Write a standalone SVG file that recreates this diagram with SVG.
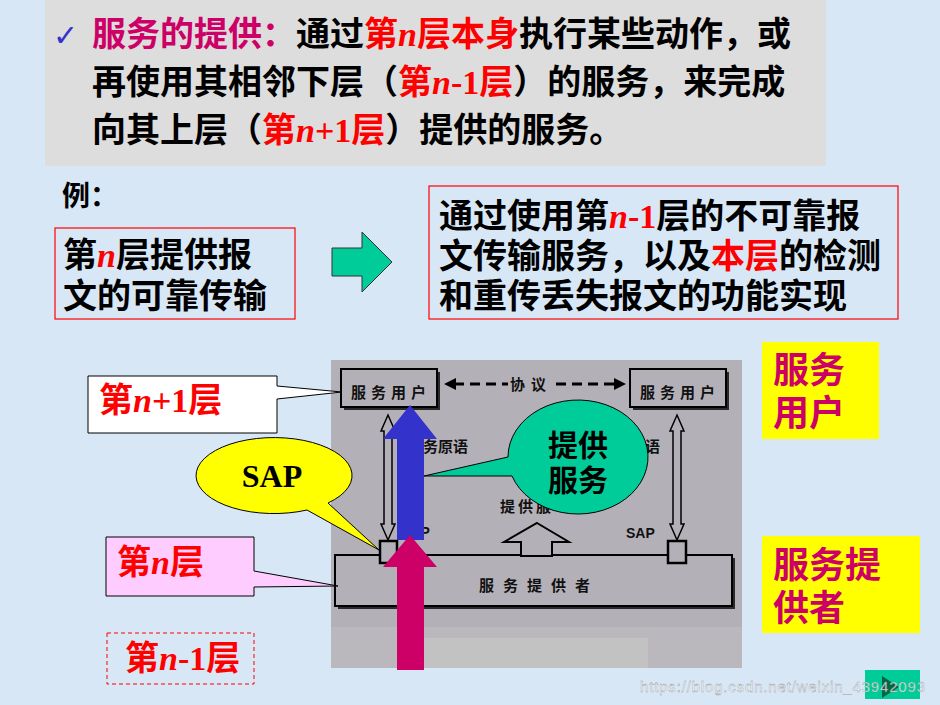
<svg xmlns="http://www.w3.org/2000/svg" width="940" height="705" viewBox="0 0 940 705">
<style>
.cjk{font-family:"Noto Sans CJK SC","Noto Sans CJK TC",sans-serif;font-weight:bold}
.n{font-family:"Liberation Serif",serif;font-style:italic;font-weight:bold}
.d{font-family:"Liberation Serif",serif;font-weight:bold}
.red{fill:#ff0000}
.mag{fill:#cc0066}
.inner{font-family:"Noto Sans CJK SC",sans-serif;font-weight:bold;font-size:15px;fill:#111}
.box{fill:#b4b0b8;stroke:#000;stroke-width:2}
.shadow{fill:#2a2a2a}
.hollow{fill:#b4b0b8;stroke:#000;stroke-width:1.5}
</style>
<rect width="940" height="705" fill="#d8e7f6"/>

<g id="header">
<rect x="45" y="0" width="781" height="166" fill="#dddddd"/>
<text x="53" y="46" font-family="DejaVu Sans,sans-serif" font-size="30" fill="#3333cc">✓</text>
<text x="92" y="46" class="cjk" font-size="34" fill="#000"><tspan class="mag">服务的提供：</tspan>通过<tspan class="red">第<tspan class="n">n</tspan>层本身</tspan>执行某些动作，或</text>
<text x="92" y="94" class="cjk" font-size="34" fill="#000">再使用其相邻下层（<tspan class="red">第<tspan class="n">n</tspan><tspan class="d">-1</tspan>层</tspan>）的服务，来完成</text>
<text x="92" y="142" class="cjk" font-size="34" fill="#000">向其上层（<tspan class="red">第<tspan class="n">n</tspan><tspan class="d">+1</tspan>层</tspan>）提供的服务。</text>
</g>

<g id="example-label">
<text x="62" y="206" class="cjk" font-size="28" fill="#000">例：</text>
</g>

<g id="box-left">
<rect x="55" y="228" width="240" height="91" fill="none" stroke="#ff0000" stroke-width="1.2"/>
<text x="63" y="267" class="cjk" font-size="34" fill="#000">第<tspan class="n red">n</tspan>层提供报</text>
<text x="63" y="308" class="cjk" font-size="34" fill="#000">文的可靠传输</text>
</g>

<g id="box-right">
<rect x="429" y="186" width="469" height="133" fill="none" stroke="#ff0000" stroke-width="1.2"/>
<text x="439" y="228" class="cjk" font-size="34" fill="#000">通过使用第<tspan class="red"><tspan class="n">n</tspan><tspan class="d">-1</tspan></tspan>层的不可靠报</text>
<text x="439" y="268" class="cjk" font-size="34" fill="#000">文传输服务，以及<tspan class="red">本层</tspan>的检测</text>
<text x="439" y="308" class="cjk" font-size="34" fill="#000">和重传丢失报文的功能实现</text>
</g>

<g id="connectors">
<polygon points="332,248 362,248 362,232 392,262 362,292 362,276 332,276" fill="#00cc99" stroke="#333" stroke-width="1"/>
</g>

<g id="figure">
<rect x="331" y="360" width="411" height="308" fill="#b4b0b8"/>
<rect x="331" y="627" width="411" height="41" fill="#bab8bc"/>
<rect x="423" y="638" width="225" height="30" fill="#c2c2c2"/>

<g id="user-left">
<rect x="344" y="372" width="96" height="38" class="shadow"/>
<rect x="341" y="369" width="96" height="38" class="box"/>
<text x="391" y="398" class="inner" text-anchor="middle" letter-spacing="5">服务用户</text>
</g>
<g id="user-right">
<rect x="633" y="372" width="96" height="38" class="shadow"/>
<rect x="630" y="369" width="96" height="38" class="box"/>
<text x="680" y="398" class="inner" text-anchor="middle" letter-spacing="5">服务用户</text>
</g>
<g id="provider">
<rect x="338" y="558" width="397" height="51" class="shadow"/>
<rect x="335" y="555" width="397" height="51" class="box"/>
<text x="539" y="591" class="inner" text-anchor="middle" letter-spacing="9">服务提供者</text>
</g>

<g id="protocol">
<line x1="454" y1="384" x2="508" y2="384" stroke="#000" stroke-width="3" stroke-dasharray="10,6"/>
<line x1="556" y1="384" x2="616" y2="384" stroke="#000" stroke-width="3" stroke-dasharray="10,6"/>
<polygon points="444,384 456,378 456,390" fill="#000"/>
<polygon points="626,384 614,378 614,390" fill="#000"/>
<text x="531" y="390" class="inner" text-anchor="middle" letter-spacing="6">协议</text>
</g>

<text x="408" y="452" class="inner">服务原语</text>
<text x="645" y="452" class="inner">语</text>
<text x="500" y="512" class="inner" letter-spacing="3">提供服</text>
<text x="401" y="537" font-family="Liberation Sans,sans-serif" font-weight="bold" font-size="14" fill="#111">SAP</text>
<text x="626" y="538" font-family="Liberation Sans,sans-serif" font-weight="bold" font-size="14" fill="#111">SAP</text>

<polygon points="388,415 395,431 392,431 392,524 395,524 388,540 381,524 384,524 384,431 381,431" class="hollow"/>
<polygon points="677,415 684,431 681,431 681,524 684,524 677,540 670,524 673,524 673,431 670,431" class="hollow"/>

<polygon points="537,523 569,542 552,542 552,556 521,556 521,542 504,542" fill="#b4b0b8" stroke="#000" stroke-width="2"/>

<rect x="380" y="541" width="17" height="22" fill="#b4b0b8" stroke="#000" stroke-width="2.5"/>
<rect x="668" y="541" width="18" height="22" fill="#b4b0b8" stroke="#000" stroke-width="2.5"/>
</g>

<g id="callout-n1">
<path d="M88,376 H277 V386 L342,392 L277,399 V433 H88 Z" fill="#ffffff" stroke="#000" stroke-width="1"/>
<text x="99" y="412" class="cjk red" font-size="34">第<tspan class="n">n</tspan><tspan class="d">+1</tspan>层</text>
</g>

<g id="callout-sap">
<path d="M328,503 L379,550 L307,510 A78,38 0 1 1 328,503 Z" fill="#ffff00" stroke="#000" stroke-width="1"/>
<text x="272" y="487" class="d" font-size="32" text-anchor="middle" fill="#000">SAP</text>
</g>

<g id="callout-n">
<path d="M106,537 H254 V571 L338,586 L254,587 V596 H106 Z" fill="#ffccff" stroke="#000" stroke-width="1"/>
<text x="117" y="574" class="cjk red" font-size="34">第<tspan class="n">n</tspan>层</text>
</g>

<g id="label-n-1">
<rect x="107" y="633" width="147" height="51" fill="none" stroke="#ff0000" stroke-width="1" stroke-dasharray="4,3"/>
<text x="125" y="670" class="cjk red" font-size="34">第<tspan class="n">n</tspan><tspan class="d">-1</tspan>层</text>
</g>

<g id="arrow-blue">
<polygon points="410,405 437,439 424,439 424,540 397,540 397,439 383,439" fill="#3333cc"/>
</g>
<g id="arrow-magenta">
<polygon points="410,535 437,567 424,567 424,670 397,670 397,567 383,567" fill="#cc0066"/>
</g>

<g id="callout-provide">
<path d="M508,457 L424,476 L512,476 A70,57 0 1 0 508,457 Z" fill="#00cc99" stroke="#000" stroke-width="1"/>
<text x="578" y="456" class="cjk" font-size="30" text-anchor="middle" fill="#000">提供</text>
<text x="578" y="491" class="cjk" font-size="30" text-anchor="middle" fill="#000">服务</text>
</g>

<g id="tag-user">
<rect x="762" y="342" width="117" height="97" fill="#ffff00"/>
<text x="773" y="383" class="cjk mag" font-size="36">服务</text>
<text x="773" y="426" class="cjk mag" font-size="36">用户</text>
</g>
<g id="tag-provider">
<rect x="762" y="536" width="158" height="97" fill="#ffff00"/>
<text x="773" y="578" class="cjk mag" font-size="36">服务提</text>
<text x="773" y="621" class="cjk mag" font-size="36">供者</text>
</g>

<g id="nav-button">
<rect x="865" y="670" width="55" height="29" fill="#00cc99"/>
<polygon points="882,676 882,698 899,687" fill="#006644"/>
</g>
<text x="640" y="692" font-family="Liberation Sans,sans-serif" font-size="15" fill="#ffffff" fill-opacity="0.75" stroke="#888" stroke-width="0.3" textLength="285">https://blog.csdn.net/weixin_43942093</text>
</svg>
